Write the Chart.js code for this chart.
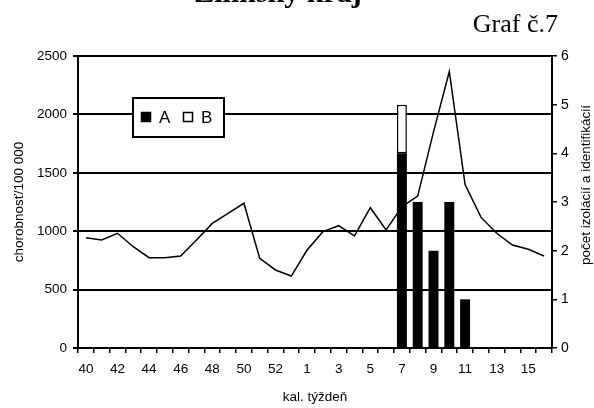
<!DOCTYPE html>
<html>
<head>
<meta charset="utf-8">
<script src="https://cdn.jsdelivr.net/npm/chart.js@4/dist/chart.umd.min.js"></script>
<style>
html, body { margin: 0; padding: 0; background: #fff; }
</style>
</head>
<body>
<canvas id="graf" width="594" height="408"></canvas>
<script>
// calendar weeks 40/2004 .. 16/2005
var weeks = ['40', '41', '42', '43', '44', '45', '46', '47', '48', '49', '50', '51', '52', '53',
             '1', '2', '3', '4', '5', '6', '7', '8', '9', '10', '11', '12', '13', '14', '15', '16'];
// chorobnost na 100 000 (left axis)
var morbidity = [944, 925, 982, 867, 773, 773, 788, 925, 1067, 1153, 1239, 768, 668, 616,
                 839, 996, 1047, 959, 1201, 1010, 1210, 1300, 1850, 2366, 1400, 1120, 982, 882, 845, 788];
// pocet izolacii (right axis)
var isolatesA = [null, null, null, null, null, null, null, null, null, null, null, null, null, null,
                 null, null, null, null, null, null, 4, 3, 2, 3, 1, null, null, null, null, null];
var isolatesB = [null, null, null, null, null, null, null, null, null, null, null, null, null, null,
                 null, null, null, null, null, null, 1, null, null, null, null, null, null, null, null, null];

var mainTitle = 'Žilinský kraj';
var subTitle = 'Graf č.7';
var leftAxisTitle = 'chorobnosť/100 000';
var rightAxisTitle = 'počet izolácií a identifikácií';
var xAxisTitle = 'kal. týždeň';

var sans = '"Liberation Sans", Arial, sans-serif';
var serif = '"Liberation Serif", "Times New Roman", serif';

// titles, rotated right title and the boxed legend
var decorations = {
    id: 'decorations',
    afterDraw: function(chart) {
        var ctx = chart.ctx;
        ctx.save();
        ctx.fillStyle = '#000';
        ctx.textBaseline = 'alphabetic';
        ctx.font = 'bold 30px ' + serif;
        ctx.textAlign = 'center';
        ctx.fillText(mainTitle, 278, 1.5);
        ctx.font = '26px ' + serif;
        ctx.textAlign = 'right';
        ctx.fillText(subTitle, 558, 32);

        ctx.save();
        ctx.translate(586, 185);
        ctx.rotate(-Math.PI / 2);
        ctx.font = '13.5px ' + sans;
        ctx.textAlign = 'center';
        ctx.textBaseline = 'middle';
        ctx.fillText(rightAxisTitle, 0, 0);
        ctx.restore();

        // legend box
        ctx.fillStyle = '#fff';
        ctx.fillRect(133, 98, 91, 39);
        ctx.lineWidth = 2;
        ctx.strokeStyle = '#000';
        ctx.strokeRect(133, 98, 91, 39);
        var x = 141;
        ctx.font = '17px ' + sans;
        ctx.textAlign = 'left';
        ctx.textBaseline = 'middle';
        chart.data.datasets.forEach(function(ds) {
            if (ds.type !== 'bar') {
                return;
            }
            ctx.fillStyle = ds.backgroundColor;
            ctx.fillRect(x, 112, 10, 10);
            ctx.lineWidth = 1.5;
            ctx.strokeRect(x + 0.5, 112.5, 9, 9);
            ctx.fillStyle = '#000';
            ctx.fillText(ds.label, x + 18, 118);
            x += 42;
        });
        ctx.restore();
    }
};

new Chart(document.getElementById('graf').getContext('2d'), {
    data: {
        labels: weeks,
        datasets: [{
            type: 'line',
            label: 'chorobnosť',
            data: morbidity,
            yAxisID: 'y',
            borderColor: '#000',
            borderWidth: 1.5,
            pointRadius: 0,
            tension: 0,
            order: 2
        }, {
            type: 'bar',
            label: 'A',
            data: isolatesA,
            yAxisID: 'y1',
            backgroundColor: '#000',
            borderColor: '#000',
            borderWidth: 0,
            categoryPercentage: 1,
            barPercentage: 0.63,
            order: 1
        }, {
            type: 'bar',
            label: 'B',
            data: isolatesB,
            yAxisID: 'y1',
            backgroundColor: '#fff',
            borderColor: '#000',
            borderWidth: 1.5,
            borderSkipped: false,
            categoryPercentage: 1,
            barPercentage: 0.63,
            order: 1
        }]
    },
    options: {
        responsive: false,
        animation: false,
        layout: { padding: { top: 56, left: 0, right: 0, bottom: 0 } },
        plugins: {
            legend: { display: false },
            tooltip: { enabled: false }
        },
        scales: {
            x: {
                stacked: true,
                afterFit: function(scale) { scale.height = 60; },
                grid: { drawOnChartArea: false, offset: true, color: '#000', lineWidth: 1.5, tickLength: 5 },
                border: { color: '#000', width: 2 },
                ticks: {
                    autoSkip: false,
                    maxRotation: 0,
                    padding: 8,
                    color: '#000',
                    font: { family: sans, size: 13.5 },
                    callback: function(v, i) { return i % 2 === 0 ? weeks[i] : ''; }
                },
                title: {
                    display: true,
                    text: xAxisTitle,
                    color: '#000',
                    font: { family: sans, size: 13.5 },
                    padding: { top: 0, bottom: 3 }
                }
            },
            y: {
                position: 'left',
                min: 0,
                max: 2500,
                afterFit: function(scale) { scale.width = 78; },
                grid: { color: '#000', lineWidth: 2, tickLength: 5 },
                border: { color: '#000', width: 2 },
                ticks: {
                    stepSize: 500,
                    padding: 6,
                    color: '#000',
                    font: { family: sans, size: 13.5 },
                    callback: function(v) { return String(v); }
                },
                title: {
                    display: true,
                    text: leftAxisTitle,
                    color: '#000',
                    font: { family: sans, size: 13.5 },
                    padding: { top: 11, bottom: 0 }
                }
            },
            y1: {
                position: 'right',
                stacked: true,
                min: 0,
                max: 6,
                afterFit: function(scale) { scale.width = 42; },
                grid: { drawOnChartArea: false, color: '#000', lineWidth: 1.5, tickLength: 5 },
                border: { color: '#000', width: 2 },
                ticks: {
                    stepSize: 1,
                    padding: 4,
                    color: '#000',
                    font: { family: sans, size: 14 }
                }
            }
        }
    },
    plugins: [decorations]
});
</script>
</body>
</html>
